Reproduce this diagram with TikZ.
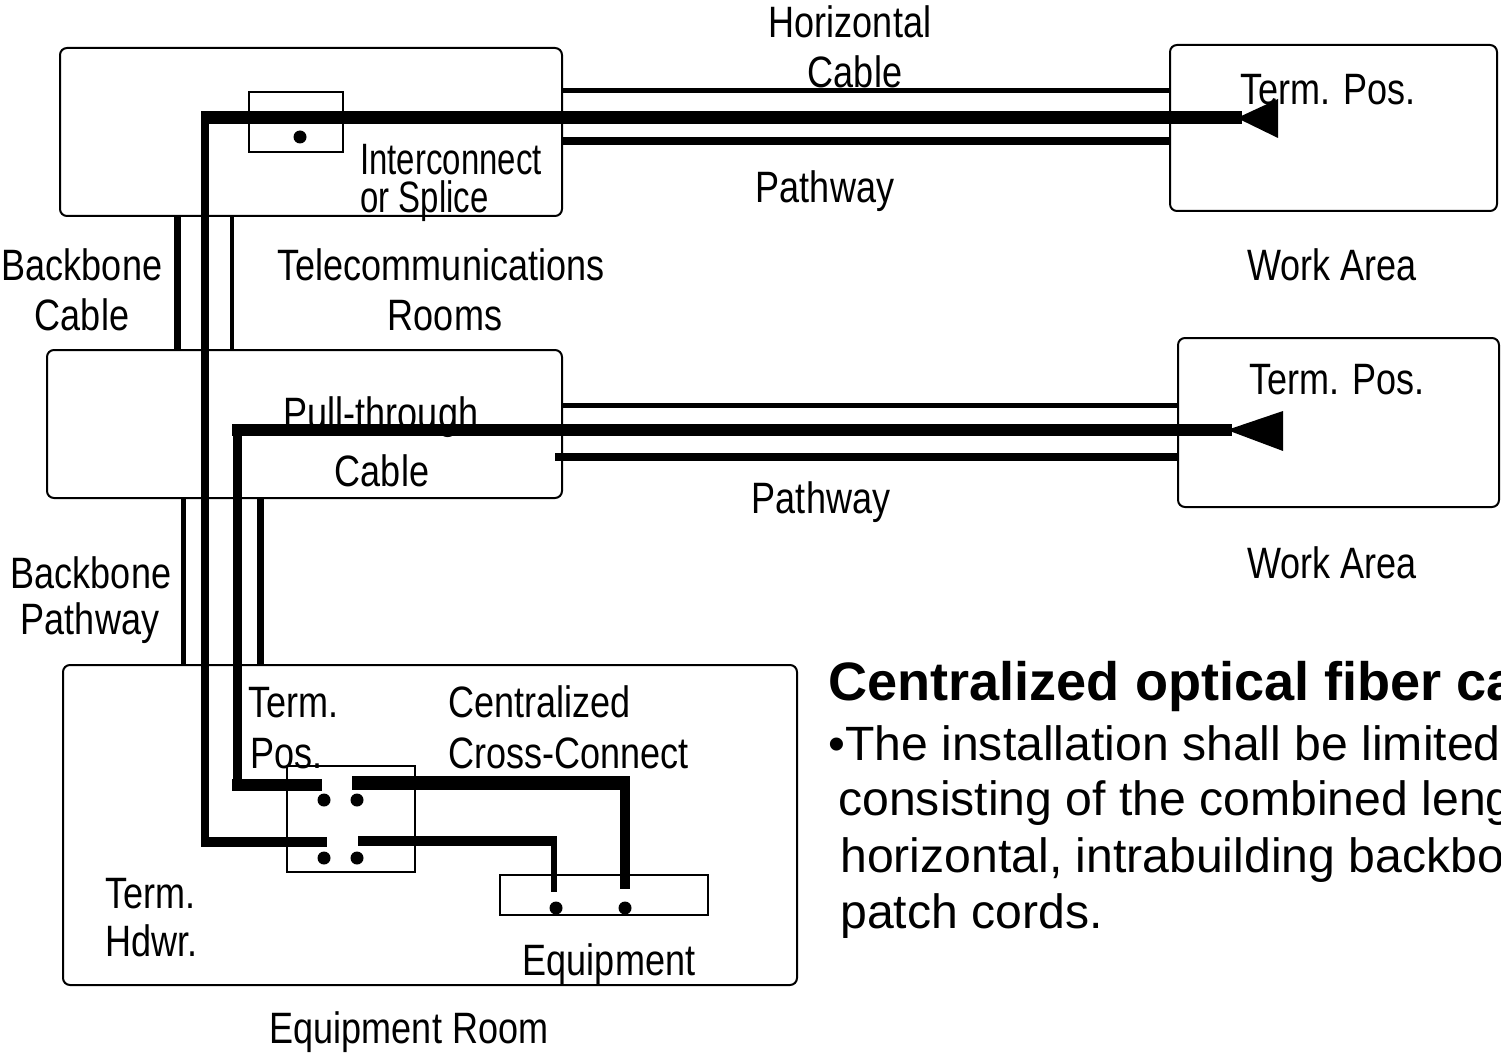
\documentclass[tikz,border=0pt]{standalone}
\usepackage{fontspec}
\setmainfont{Liberation Sans}
\newfontfamily\labfont[FakeStretch=0.82]{Liberation Sans}
\newfontfamily\labnarrow[FakeStretch=0.75]{Liberation Sans}
\newdimen\pxu \pxu=0.02cm
\tikzset{
  room/.style={draw, line width=2\pxu, rounded corners=4pt},
  sbox/.style={draw, line width=1.6\pxu},
  lab/.style={font=\labfont\fontsize{25pt}{28pt}\selectfont, inner sep=0pt, anchor=base},
  labl/.style={lab, anchor=base west},
  body/.style={font=\fontsize{27.4pt}{32pt}\selectfont, inner sep=0pt, anchor=base west},
  head/.style={font=\fontsize{30.8pt}{34pt}\selectfont\bfseries, inner sep=0pt, anchor=base west},
  cab/.style={line width=#1\pxu},
  dot/.style={circle, fill, inner sep=0pt, minimum size=13\pxu}
}
\begin{document}
\begin{tikzpicture}[x=0.02cm, y=-0.02cm]
\useasboundingbox (0,0) rectangle (1501,1054);
\clip (0,0) rectangle (1501,1054);
\fill[white] (0,0) rectangle (1501,1054);

% rooms / boxes
\draw[room] (60,48) rectangle (562,216) coordinate (trA);
\draw[room] (47,350) rectangle (562,498) coordinate (trB);
\draw[room] (63,665) rectangle (797,985) coordinate (er);
\draw[room] (1170,45) rectangle (1497,211) coordinate (waA);
\draw[room] (1178,338) rectangle (1499,507) coordinate (waB);
\draw[sbox] (249,92) rectangle (343,152) coordinate (icbox);
\draw[sbox] (287,766) rectangle (415,872) coordinate (ccbox);
\draw[sbox] (500,875) rectangle (708,915) coordinate (eqbox);

% labels
\node[lab] (hz1) at (850,38) {Horizontal};
\node[lab] (hz2) at (855,88) {Cable};
\node[lab] (tpA) at (1328,105) {Term. Pos.};
\node[labl, font=\labnarrow\fontsize{25pt}{28pt}\selectfont] (ic1) at (360,175) {Interconnect};
\node[labl, font=\labnarrow\fontsize{25pt}{28pt}\selectfont] (ic2) at (360,213) {or Splice};
\node[lab] (pwA) at (825,203) {Pathway};
\node[lab] (bc1) at (82,280) {Backbone};
\node[lab] (bc2) at (82,330) {Cable};
\node[lab] (tr1) at (441,280) {Telecommunications};
\node[lab] (tr2) at (445,330) {Rooms};
\node[lab] (wa1) at (1332,280) {Work Area};
\node[lab] (tpB) at (1337,394) {Term. Pos.};
\node[lab] (pt1) at (381,428) {Pull-through};
\node[lab] (pt2) at (382,486) {Cable};
\node[lab] (pwB) at (821,513) {Pathway};
\node[lab] (wa2) at (1332,578) {Work Area};
\node[lab] (bp1) at (91,588) {Backbone};
\node[lab] (bp2) at (90,634) {Pathway};
\node[labl] (tp1) at (248,717) {Term.};
\node[labl] (tp2) at (250,768) {Pos.};
\node[labl] (cc1) at (448,717) {Centralized};
\node[labl] (cc2) at (448,768) {Cross-Connect};
\node[labl] (th1) at (105,908) {Term.};
\node[labl] (th2) at (105,956) {Hdwr.};
\node[lab] (eq) at (609,975) {Equipment};
\node[lab] (erl) at (409,1043) {Equipment Room};

% pathways (parallel lines)
\coordinate (pa1) at (562,91);  \coordinate (pa2) at (1170,91);
\coordinate (pb1) at (562,141); \coordinate (pb2) at (1170,141);
\coordinate (pc1) at (562,405); \coordinate (pc2) at (1178,405);
\coordinate (pd1) at (555,457); \coordinate (pd2) at (1178,457);
\draw[cab=5] (pa1) -- (pa2);
\draw[cab=8] (pb1) -- (pb2);
\draw[cab=5] (pc1) -- (pc2);
\draw[cab=8] (pd1) -- (pd2);
% backbone cable/pathway lines
\coordinate (ba1) at (177,216); \coordinate (ba2) at (177,350);
\coordinate (bb1) at (232,216); \coordinate (bb2) at (232,350);
\coordinate (bc1c) at (183,498); \coordinate (bc2c) at (183,665);
\coordinate (bd1) at (260,498); \coordinate (bd2) at (260,665);
\draw[cab=7] (ba1) -- (ba2);
\draw[cab=4] (bb1) -- (bb2);
\draw[cab=5] (bc1c) -- (bc2c);
\draw[cab=7] (bd1) -- (bd2);

% interconnect cable
\coordinate (ia) at (1242,118);
\coordinate (ib) at (201,118);
\coordinate (ic) at (205,112);
\coordinate (id) at (205,846);
\coordinate (ie) at (201,842);
\coordinate (iff) at (327,842);
\draw[cab=13] (ib) -- (ia);
\draw[cab=8] (ic) -- (id);
\draw[cab=10] (ie) -- (iff);
\fill (1237,118) -- (1278,99) -- (1278,138) -- cycle;

% pull-through cable
\coordinate (qa) at (1232,430);
\coordinate (qb) at (232,430);
\coordinate (qc) at (237,424);
\coordinate (qd) at (237,791);
\coordinate (qe) at (232,785);
\coordinate (qf) at (322,785);
\draw[cab=12] (qb) -- (qa);
\draw[cab=9] (qc) -- (qd);
\draw[cab=12] (qe) -- (qf);
\fill (1227,430) -- (1283,411) -- (1283,451) -- cycle;

% cross-connect to equipment
\coordinate (xa) at (352,783);
\coordinate (xb) at (630,783);
\coordinate (xc) at (625,889);
\draw[cab=14] (xa) -- (xb);
\draw[cab=10] (625,776) -- (xc);
\coordinate (ya) at (358,841);
\coordinate (yb) at (557,841);
\coordinate (yc) at (554,892);
\draw[cab=10] (ya) -- (yb);
\draw[cab=6] (554,836) -- (yc);

% dots
\node[dot] (d1) at (300,137) {};
\node[dot] (d2) at (324,800) {};
\node[dot] (d3) at (357,800) {};
\node[dot] (d4) at (324,858) {};
\node[dot] (d5) at (357,858) {};
\node[dot] (d6) at (556,908) {};
\node[dot] (d7) at (625,908) {};

% text block
\node[head] (hd) at (828,700) {Centralized optical fiber cabling};
\node[body] (b1) at (828,760) {\textbullet The installation shall be limited to};
\node[body] (b2) at (838,815) {consisting of the combined length of};
\node[body] (b3) at (840,872) {horizontal, intrabuilding backbone, and};
\node[body] (b4) at (840,928) {patch cords.};
\end{tikzpicture}
\end{document}
